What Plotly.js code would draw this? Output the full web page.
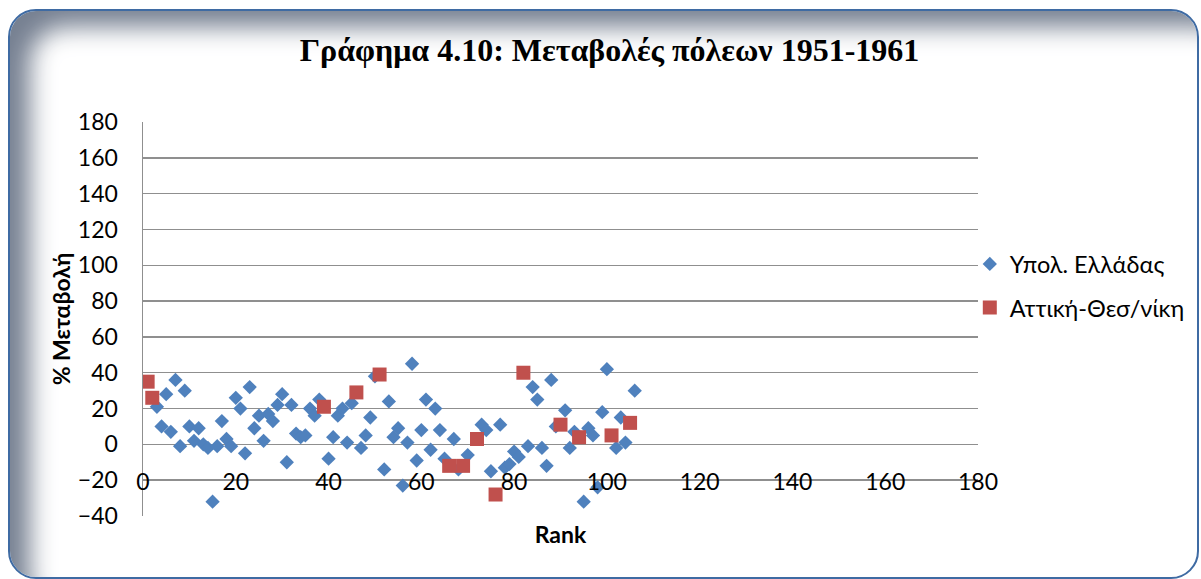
<!DOCTYPE html>
<html><head><meta charset="utf-8">
<script src="https://cdn.plot.ly/plotly-3.0.1.min.js"></script>
<style>
html,body{margin:0;padding:0;background:#fff;width:1201px;height:579px;overflow:hidden;}
#frame{position:absolute;left:8px;top:9px;width:1187px;height:566px;border:2px solid #3f6ba3;border-radius:28px;box-shadow:inset 30px 26px 24px -10px rgba(112,122,140,0.95);background:#fff;}
#chart{position:absolute;left:0;top:0;width:1201px;height:579px;}
</style></head>
<body><div id="frame"></div><div id="chart"></div>
<script>
// Υπολ. Ελλάδας (rest of Greece)
const blueRank = [3,4,5,6,7,8,9,10,11,12,13,14,15,16,17,18,19,20,21,22,23,24,25,26,27,28,29,30,31,32,33,34,35,36,37,38,40,41,42,43,44,45,47,48,49,50,52,53,54,55,56,57,58,59,60,61,62,63,64,65,67,68,70,73,74,75,77,78,79,80,81,83,84,85,86,87,88,89,91,92,93,95,96,97,98,99,100,102,103,104,106];
const blueVal = [21,10,28,7,36,-1,30,10,2,9,0,-2,-32,-1,13,3,-1,26,20,-5,32,9,16,2,17,13,22,28,-10,22,6,4,5,20,16,25,-8,4,16,20,1,23,-2,5,15,38,-14,24,4,9,-23,1,45,-9,8,25,-3,20,8,-8,3,-14,-6,11,8,-15,11,-13,-11,-4,-7,-1,32,25,-2,-12,36,10,19,-2,7,-32,9,5,-24,18,42,-2,15,1,30];
// Αττική-Θεσ/νίκη
const redRank = [1,2,39,46,51,66,69,72,76,82,90,94,101,105];
const redVal = [35,26,21,29,39,-12,-12,3,-28,40,11,4,5,12];

const seriesNames = ['Υπολ. Ελλάδας', 'Αττική-Θεσ/νίκη'];
const xTicks = [0,20,40,60,80,100,120,140,160,180];
const yTicks = [-40,-20,0,20,40,60,80,100,120,140,160,180];
const chartTitle = 'Γράφημα 4.10: Μεταβολές πόλεων 1951-1961';
const xTitle = 'Rank';
const yTitle = '% Μεταβολή';

const sans = 'Lato, "Noto Sans", sans-serif';

const traces = [
  {type:'scatter', mode:'markers', name:seriesNames[0], x:blueRank, y:blueVal, legendgroup:'a',
   marker:{symbol:'diamond', size:11, color:'#4f81bd', line:{width:0}}},
  {type:'scatter', mode:'markers', name:seriesNames[1], x:redRank, y:redVal, legendgroup:'b',
   marker:{symbol:'square', size:14, color:'#c0504d', line:{width:0}}}
];

const layout = {
  width:1201, height:579,
  margin:{l:143, r:222, t:122, b:63, pad:0},
  paper_bgcolor:'rgba(0,0,0,0)', plot_bgcolor:'rgba(0,0,0,0)',
  title:{text:chartTitle, font:{family:'"Liberation Serif", "Times New Roman", serif', size:32, weight:'bold', color:'#000'},
    x:0.5075, xref:'container', xanchor:'center', y:1-50/579, yref:'container', yanchor:'middle'},
  xaxis:{range:[0,180], tickvals:xTicks, anchor:'free', position:40/220, showgrid:false, zeroline:false, showline:false,
    ticks:'', ticklabelstandoff:22, tickfont:{family:sans, size:23, color:'#000'},
    title:{text:xTitle, font:{family:sans, size:23, weight:'bold', color:'#000'}, standoff:32}},
  yaxis:{range:[-40,180], tickvals:yTicks, showgrid:true, gridcolor:'#8f8f8f', gridwidth:1.5, zeroline:false,
    showline:true, linecolor:'#8f8f8f', linewidth:1.5, ticks:'', ticklabelstandoff:19,
    tickfont:{family:sans, size:23, color:'#000'},
    title:{text:yTitle, font:{family:sans, size:23, weight:'bold', color:'#000'}, standoff:1}},
  legend:{x:0.989, xanchor:'left', y:0.695, yanchor:'top', font:{family:sans, size:23.5, color:'#000'},
    traceorder:'grouped', tracegroupgap:10, bgcolor:'rgba(0,0,0,0)', borderwidth:0},
  showlegend:true
};

Plotly.newPlot('chart', traces, layout, {displayModeBar:false, staticPlot:true});
</script>
</body></html>
